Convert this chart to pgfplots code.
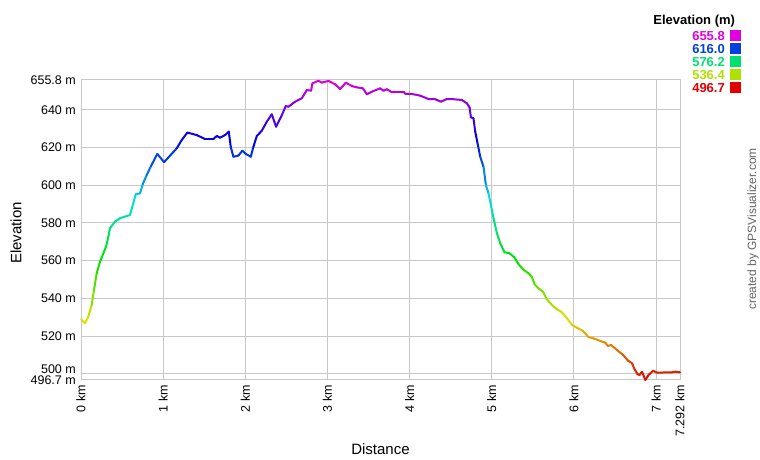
\documentclass[border=0pt]{standalone}
\usepackage{fontspec}
\setmainfont{Liberation Sans}
\usepackage{pgfplots}
\pgfplotsset{compat=1.18}
\definecolor{framegray}{RGB}{200,200,200}
\definecolor{cA}{RGB}{224,0,224}
\definecolor{cB}{RGB}{0,64,224}
\definecolor{cC}{RGB}{0,224,112}
\definecolor{cD}{RGB}{176,224,0}
\definecolor{cE}{RGB}{224,0,0}
\definecolor{credit}{RGB}{102,102,102}
\begin{document}
\begin{tikzpicture}[x=1pt,y=1pt]
\path[use as bounding box] (0,0) rectangle (760,460);
\begin{axis}[
  at={(81pt,80pt)}, anchor=south west,
  width=599pt, height=300pt, scale only axis,
  xmin=0, xmax=7.292, ymin=496.7, ymax=655.8,
  xtick={0,1,2,3,4,5,6,7,7.292},
  xticklabels={0 km,1 km,2 km,3 km,4 km,5 km,6 km,7 km,7.292 km},
  ytick={496.7,520,540,560,580,600,620,640,655.8},
  yticklabels={496.7 m,520 m,540 m,560 m,580 m,600 m,620 m,640 m,655.8 m},
  extra y ticks={500},
  extra y tick labels={500 m},
  extra y tick style={grid=major, yticklabel style={yshift=4.5pt}},
  grid=major, grid style={framegray, line width=1pt},
  axis line style={framegray, line width=1pt},
  major tick length=0pt,
  /pgf/number format/assume math mode=true,
  tick label style={font=\fontsize{12.5}{14}\selectfont, text=black},
  xticklabel style={yshift=-5pt, rotate=90, anchor=east, inner sep=0pt},
  yticklabel style={anchor=east, inner sep=0pt, xshift=-5pt},
  colormap={gps}{rgb255(0cm)=(224,0,0) rgb255(1cm)=(224,224,0) rgb255(2cm)=(0,224,0) rgb255(3cm)=(0,224,224) rgb255(4cm)=(0,0,224) rgb255(5cm)=(224,0,224)},
  point meta min=496.7, point meta max=655.8,
  clip=false,
]
\addplot[mesh, point meta=y, line width=2pt, line join=round, line cap=round] coordinates {
(0,528.9) (0.049,526.8) (0.089,530.3) (0.130,536.5) (0.158,544.4) (0.191,553.3)
(0.231,559.4) (0.305,567.4) (0.333,572.7) (0.353,577.2) (0.414,580.7) (0.475,582.5)
(0.597,584.2) (0.637,590.4) (0.666,595.2) (0.719,595.7) (0.752,600.6) (0.800,605.4)
(0.853,610.2) (0.929,616.6) (1.011,612.2) (1.166,619.6) (1.227,624.0) (1.295,627.9)
(1.409,626.6) (1.510,624.5) (1.611,624.5) (1.653,626.1) (1.693,625.2) (1.754,626.6)
(1.799,628.4) (1.823,620.4) (1.855,615.1) (1.916,615.7) (1.965,618.3) (2.006,616.6)
(2.067,615.1) (2.099,620.4) (2.140,626.1) (2.201,628.9) (2.262,633.7) (2.323,637.6)
(2.375,631.0) (2.445,637.2) (2.493,642.0) (2.525,641.6) (2.607,644.3) (2.688,646.1)
(2.749,650.5) (2.801,650.1) (2.817,654.0) (2.890,655.4) (2.932,654.4) (3.012,655.3)
(3.094,653.5) (3.155,651.0) (3.224,654.4) (3.297,652.6) (3.358,651.9) (3.431,651.4)
(3.480,648.2) (3.541,649.6) (3.642,651.4) (3.682,650.1) (3.724,650.9) (3.784,649.3)
(3.825,649.6) (3.926,649.6) (3.946,648.5) (4.028,648.4) (4.129,647.5) (4.230,645.7)
(4.312,645.6) (4.381,644.3) (4.454,645.7) (4.535,645.6) (4.637,645.2) (4.698,643.4)
(4.730,641.3) (4.747,636.0) (4.778,635.5) (4.799,628.4) (4.827,622.3) (4.860,615.1)
(4.900,609.8) (4.929,600.1) (4.961,595.7) (4.994,588.6) (5.022,582.5) (5.063,574.5)
(5.104,569.2) (5.156,564.4) (5.217,563.9) (5.274,561.8) (5.326,558.2) (5.380,555.4)
(5.460,552.9) (5.490,551.2) (5.521,547.5) (5.570,545.3) (5.624,543.5) (5.672,539.5)
(5.733,536.5) (5.794,534.2) (5.855,532.6) (5.916,529.4) (5.977,525.9) (6.038,524.4)
(6.111,522.7) (6.179,519.4) (6.240,518.8) (6.322,517.4) (6.383,516.5) (6.415,514.7)
(6.452,515.3) (6.525,512.6) (6.598,510.0) (6.659,507.0) (6.708,505.6) (6.739,502.4)
(6.776,499.7) (6.800,499.4) (6.830,501.1) (6.870,496.7) (6.910,499.4) (6.964,501.6)
(7.012,500.6) (7.195,500.8) (7.235,501.1) (7.292,500.8)
};
\end{axis}
% axis titles
\node[rotate=90, font=\fontsize{15}{18}\selectfont] at (16,227) {Elevation};
\node[font=\fontsize{15}{18}\selectfont] at (380.5,11) {Distance};
% credit
\node[rotate=90, font=\fontsize{12}{14}\selectfont, text=credit] at (753,231) {created by GPSVisualizer.com};
% colour legend
\node[anchor=east, font=\bfseries\fontsize{13}{15}\selectfont] at (738.5,439) {Elevation (m)};
\node[anchor=east, font=\bfseries\fontsize{13}{15}\selectfont, text=cA, inner sep=0pt] at (725,424) {655.8};
\node[anchor=east, font=\bfseries\fontsize{13}{15}\selectfont, text=cB, inner sep=0pt] at (725,411) {616.0};
\node[anchor=east, font=\bfseries\fontsize{13}{15}\selectfont, text=cC, inner sep=0pt] at (725,398) {576.2};
\node[anchor=east, font=\bfseries\fontsize{13}{15}\selectfont, text=cD, inner sep=0pt] at (725,385) {536.4};
\node[anchor=east, font=\bfseries\fontsize{13}{15}\selectfont, text=cE, inner sep=0pt] at (725,372) {496.7};
\fill[cA] (730,418.5) rectangle (741,429.5);
\fill[cB] (730,405.5) rectangle (741,416.5);
\fill[cC] (730,392.5) rectangle (741,403.5);
\fill[cD] (730,379.5) rectangle (741,390.5);
\fill[cE] (730,366.5) rectangle (741,377.5);
\end{tikzpicture}
\end{document}
